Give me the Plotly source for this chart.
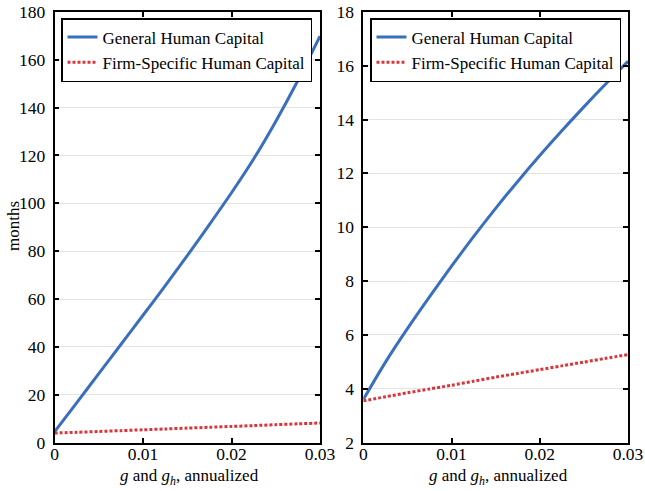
import plotly.graph_objects as go

g = [0, 0.0025, 0.005, 0.0075, 0.01, 0.0125, 0.015, 0.0175, 0.02, 0.0225, 0.025, 0.0275, 0.03]

left_general = [4.5, 16.6, 28.8, 41.0, 53.2, 65.5, 78.1, 91.1, 104.4, 118.5, 134.2, 151.3, 169.8]
left_specific = [4.0, 4.3, 4.65, 5.0, 5.35, 5.7, 6.05, 6.4, 6.75, 7.1, 7.5, 7.85, 8.2]

right_general = [3.6, 4.98, 6.23, 7.41, 8.55, 9.65, 10.7, 11.7, 12.66, 13.58, 14.47, 15.33, 16.16]
right_specific = [3.55, 3.7, 3.85, 3.99, 4.13, 4.28, 4.43, 4.57, 4.71, 4.85, 4.99, 5.13, 5.27]

names = ["General Human Capital", "Firm-Specific Human Capital"]
x_ticks = [0, 0.01, 0.02, 0.03]
x_ticklabels = ["0", "0.01", "0.02", "0.03"]
left_yticks = [0, 20, 40, 60, 80, 100, 120, 140, 160, 180]
right_yticks = [2, 4, 6, 8, 10, 12, 14, 16, 18]

BLUE = "#3a6fbd"
RED = "#d9363c"
FONT = "Liberation Serif"

fig = go.Figure()
line_blue = dict(color=BLUE, width=3, shape="spline", smoothing=0.8)
line_red = dict(color=RED, width=3, dash="3px,2px", shape="spline", smoothing=0.8)
fig.add_trace(go.Scatter(x=g, y=left_general, mode="lines", name=names[0],
                         line=line_blue, xaxis="x", yaxis="y", legend="legend"))
fig.add_trace(go.Scatter(x=g, y=left_specific, mode="lines", name=names[1],
                         line=line_red, xaxis="x", yaxis="y", legend="legend"))
fig.add_trace(go.Scatter(x=g, y=right_general, mode="lines", name=names[0],
                         line=line_blue, xaxis="x2", yaxis="y2", legend="legend2"))
fig.add_trace(go.Scatter(x=g, y=right_specific, mode="lines", name=names[1],
                         line=line_red, xaxis="x2", yaxis="y2", legend="legend2"))

axis_common = dict(showline=True, linecolor="black", linewidth=1.5, mirror="ticks",
                   ticks="inside", ticklen=5, tickwidth=1.5, tickcolor="black",
                   tickfont=dict(family=FONT, size=17.5, color="black"), zeroline=False,
                   automargin=False)

ydom = [1 - 442.6 / 491, 1 - 11.8 / 491]

fig.update_layout(
    template="none",
    width=645, height=491,
    margin=dict(l=0, r=0, t=0, b=0, autoexpand=False),
    paper_bgcolor="white", plot_bgcolor="white",
    font=dict(family=FONT, color="black"),
    xaxis=dict(domain=[54.5 / 645, 320 / 645], range=[0, 0.03], tickvals=x_ticks,
               ticktext=x_ticklabels, showgrid=False, anchor="y",
               ticklabelstandoff=-5, **axis_common),
    yaxis=dict(domain=ydom, range=[0, 180], tickvals=left_yticks, showgrid=True,
               gridcolor="#e3e3e3", gridwidth=1, anchor="x",
               ticklabelstandoff=4, **axis_common),
    xaxis2=dict(domain=[363.3 / 645, 628 / 645], range=[0, 0.03], tickvals=x_ticks,
                ticktext=x_ticklabels, showgrid=False, anchor="y2",
                ticklabelstandoff=-5, **axis_common),
    yaxis2=dict(domain=ydom, range=[2, 18], tickvals=right_yticks, showgrid=True,
                gridcolor="#e3e3e3", gridwidth=1, anchor="x2",
                ticklabelstandoff=4, **axis_common),
    legend=dict(x=61 / 645, y=1 - 18 / 491, xanchor="left", yanchor="top",
                bgcolor="white", bordercolor="black", borderwidth=1.5,
                font=dict(family=FONT, size=17, color="black"), itemwidth=30,
                tracegroupgap=0),
    legend2=dict(x=370 / 645, y=1 - 18 / 491, xanchor="left", yanchor="top",
                 bgcolor="white", bordercolor="black", borderwidth=1.5,
                 font=dict(family=FONT, size=17, color="black"), itemwidth=30,
                 tracegroupgap=0),
    showlegend=True,
)

fig.add_annotation(text="months", textangle=-90, x=13 / 645, y=1 - 226 / 491,
                   xref="paper", yref="paper", showarrow=False,
                   xanchor="center", yanchor="middle",
                   font=dict(family=FONT, size=17, color="black"))
for cx in [189 / 645, 498 / 645]:
    fig.add_annotation(text="<i>g</i> and <i>g<sub>h</sub></i>, annualized", x=cx, y=1 - 477 / 491,
                       xref="paper", yref="paper", showarrow=False,
                       xanchor="center", yanchor="middle",
                       font=dict(family=FONT, size=17, color="black"))

fig.write_html("out.html", config={"displayModeBar": False},
               post_script="document.body.style.margin='0';document.body.style.overflow='hidden';")
